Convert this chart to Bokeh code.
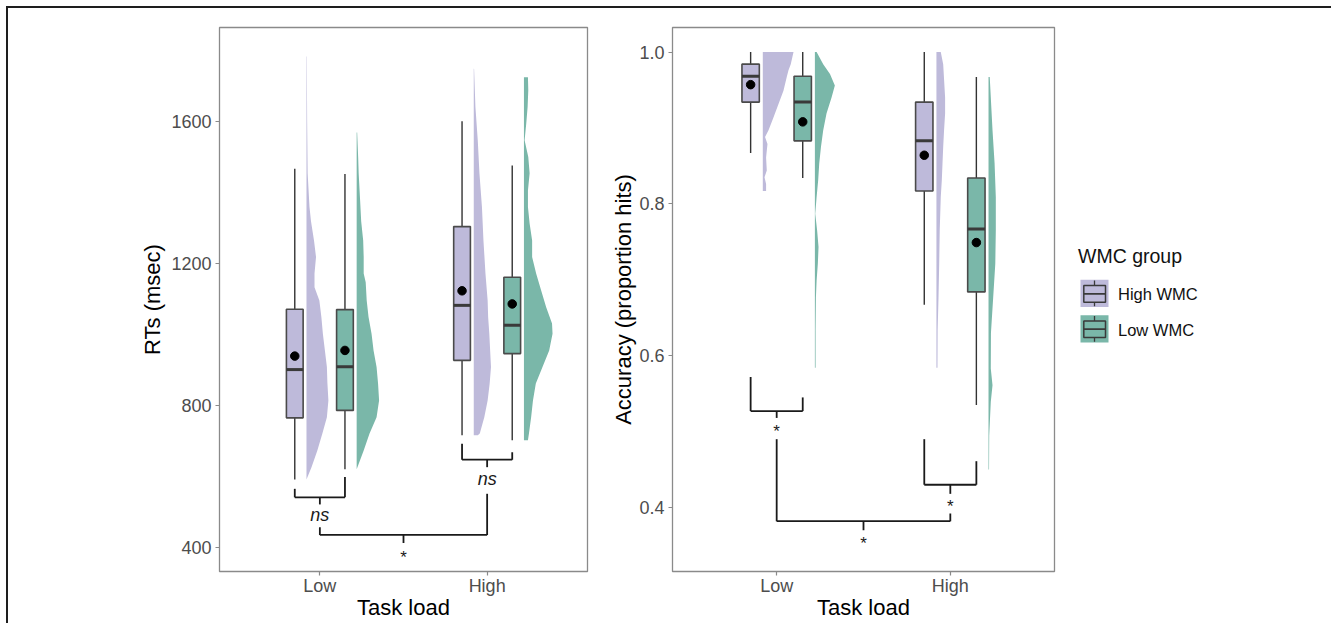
from bokeh.plotting import figure
from bokeh.layouts import row
from bokeh.models import Range1d, FixedTicker, PrintfTickFormatter
from bokeh.embed import file_html
from bokeh.resources import INLINE
from bokeh.core.properties import value

# ---------------- data ----------------
loads = ["Low", "High"]
load_pos = [1, 2]
groups = ["High WMC", "Low WMC"]
group_colors = ["#BEBADA", "#7AB7A9"]

# box stats, order: (Low, High WMC), (Low, Low WMC), (High, High WMC), (High, Low WMC)
rt_min = [592, 621, 717, 703]
rt_q1 = [766, 787, 928, 947]
rt_med = [902, 910, 1083, 1027]
rt_q3 = [1072, 1071, 1305, 1162]
rt_max = [1468, 1453, 1602, 1477]
rt_mean = [940, 956, 1124, 1087]

acc_min = [0.867, 0.834, 0.667, 0.535]
acc_q1 = [0.934, 0.883, 0.817, 0.684]
acc_med = [0.968, 0.934, 0.883, 0.767]
acc_q3 = [0.984, 0.968, 0.934, 0.834]
acc_max = [1.0, 1.0, 1.0, 0.967]
acc_mean = [0.957, 0.908, 0.864, 0.749]

# half-violin density profiles (value levels, half-width in x units)
rt_v_low_high_y = [592, 627, 674, 722, 768, 815, 865, 909, 1003, 1050, 1097, 1134, 1173, 1219, 1266, 1320, 1360, 1455, 1600, 1784]
rt_v_low_high_w = [0, .030, .065, .095, .122, .131, .125, .122, .098, .089, .077, .048, .048, .057, .045, .027, .018, .007, .004, .002]
rt_v_low_low_y = [621, 674, 722, 768, 815, 862, 909, 956, 1003, 1050, 1097, 1148, 1173, 1219, 1266, 1320, 1376, 1455, 1500, 1570]
rt_v_low_low_w = [0, .042, .077, .119, .134, .128, .119, .101, .089, .071, .060, .054, .042, .042, .039, .027, .021, .012, .009, .003]
rt_v_high_high_y = [717, 722, 768, 815, 862, 909, 956, 1003, 1050, 1097, 1173, 1266, 1360, 1455, 1548, 1642, 1750]
rt_v_high_high_w = [.024, .036, .063, .083, .095, .103, .098, .093, .086, .083, .070, .058, .049, .034, .024, .010, .002]
rt_v_high_low_y = [703, 722, 768, 815, 863, 909, 956, 1003, 1032, 1078, 1125, 1173, 1219, 1266, 1314, 1360, 1407, 1455, 1501, 1548, 1596, 1642, 1689, 1726]
rt_v_high_low_w = [.024, .030, .043, .054, .071, .111, .151, .171, .168, .133, .103, .073, .049, .049, .034, .024, .024, .034, .026, .004, .014, .022, .026, .024]

acc_v_low_high_y = [0.817, 0.826, 0.835, 0.844, 0.861, 0.879, 0.888, 0.897, 0.914, 0.932, 0.949, 0.967, 0.976, 0.984, 1.0]
acc_v_low_high_w = [.019, .019, .010, .023, .019, .027, .013, .033, .062, .091, .119, .138, .148, .161, .177]
acc_v_low_low_y = [0.584, 0.633, 0.677, 0.699, 0.721, 0.743, 0.765, 0.787, 0.809, 0.831, 0.853, 0.875, 0.897, 0.919, 0.940, 0.956, 0.971, 0.984, 1.0]
acc_v_low_low_w = [.004, .004, .006, .010, .017, .021, .013, .002, .010, .019, .025, .035, .048, .067, .096, .115, .087, .048, .010]
acc_v_high_high_y = [0.584, 0.633, 0.677, 0.721, 0.765, 0.809, 0.831, 0.853, 0.875, 0.897, 0.919, 0.940, 0.984, 1.0]
acc_v_high_high_w = [.006, .007, .012, .016, .019, .025, .031, .035, .039, .044, .050, .050, .039, .025]
acc_v_high_low_y = [0.450, 0.495, 0.539, 0.561, 0.583, 0.630, 0.677, 0.721, 0.765, 0.809, 0.853, 0.897, 0.967]
acc_v_high_low_w = [.003, .004, .013, .023, .013, .014, .027, .039, .042, .042, .035, .023, .007]

# significance brackets: x_left, x_right, y_bar, y_left_top, y_right_top, y_tick_end, label, y_label
rt_br_xl = [0.85, 1.85, 1.0]
rt_br_xr = [1.15, 2.15, 2.0]
rt_br_bar = [542, 648, 436]
rt_br_ltop = [566, 693, 458]
rt_br_rtop = [599, 669, 552]
rt_br_tick = [522, 627, 413]
rt_br_lab = ["ns", "ns", "*"]
rt_br_laby = [491, 594, 384]

acc_br_xl = [0.85, 1.85, 1.0]
acc_br_xr = [1.15, 2.15, 2.0]
acc_br_bar = [0.527, 0.430, 0.382]
acc_br_ltop = [0.572, 0.490, 0.490]
acc_br_rtop = [0.545, 0.461, 0.392]
acc_br_tick = [0.518, 0.418, 0.370]
acc_br_lab = ["*", "*", "*"]
acc_br_laby = [0.506, 0.406, 0.358]

rt_ticks = [400, 800, 1200, 1600]
acc_ticks = [0.4, 0.6, 0.8, 1.0]

# ---------------- styling constants ----------------
FONT = "Liberation Sans"
BOX_OFF = [-0.15, 0.15]
VIO_OFF = [-0.08, 0.22]
BOX_W = 0.1
H = 615


def style_panel(p, yticks, ylabel, ylab_standoff):
    p.xaxis.ticker = FixedTicker(ticks=load_pos)
    p.xaxis.major_label_overrides = {load_pos[i]: loads[i] for i in range(len(loads))}
    p.yaxis.ticker = FixedTicker(ticks=yticks)
    for ax in (p.xaxis[0], p.yaxis[0]):
        ax.axis_line_color = None
        ax.major_tick_line_color = "#8a8a8a"
        ax.major_tick_line_width = 1.2
        ax.major_tick_out = 4
        ax.major_tick_in = 0
        ax.minor_tick_line_color = None
        ax.major_label_text_font = FONT
        ax.major_label_text_font_size = "18px"
        ax.major_label_text_color = "#4d4d4d"
        ax.axis_label_text_font = FONT
        ax.axis_label_text_font_size = "22px"
        ax.axis_label_text_font_style = "normal"
        ax.axis_label_text_color = "#000000"
    p.xaxis.axis_label = "Task load"
    p.yaxis.axis_label = ylabel
    p.xaxis.major_label_standoff = 0
    p.xaxis.axis_label_standoff = -4
    p.yaxis.major_label_standoff = 4
    p.yaxis.axis_label_standoff = ylab_standoff
    p.grid.visible = False
    p.outline_line_color = "#8a8a8a"
    p.outline_line_width = 1.3
    p.background_fill_color = "white"
    p.border_fill_color = "white"


def draw_panel(p, vmin, q1, med, q3, vmax, mean, violins, br):
    k = 0
    for li, lp in enumerate(load_pos):
        for gi in range(len(groups)):
            ys, ws = violins[k]
            base = lp + VIO_OFF[gi]
            p.harea(x1=[base] * len(ys), x2=[base + w for w in ws], y=ys,
                    fill_color=group_colors[gi], fill_alpha=1.0)
            k += 1
    xs = []
    cols = []
    for li, lp in enumerate(load_pos):
        for gi in range(len(groups)):
            xs.append(lp + BOX_OFF[gi])
            cols.append(group_colors[gi])
    p.segment(x0=xs, y0=q3, x1=xs, y1=vmax, line_color="#333333", line_width=1.4)
    p.segment(x0=xs, y0=q1, x1=xs, y1=vmin, line_color="#333333", line_width=1.4)
    p.vbar(x=xs, width=BOX_W, top=q3, bottom=q1, fill_color=cols,
           line_color="#4a4a4a", line_width=1.6)
    p.segment(x0=[x - BOX_W / 2 for x in xs], x1=[x + BOX_W / 2 for x in xs],
              y0=med, y1=med, line_color="#3a3a3a", line_width=3)
    p.scatter(x=xs, y=mean, size=8.5, color="black")
    xl, xr, bar, ltop, rtop, tick, lab, laby = br
    x0, y0, x1, y1 = [], [], [], []
    for i in range(len(xl)):
        xm = (xl[i] + xr[i]) / 2
        x0 += [xl[i], xl[i], xr[i], xm]
        y0 += [bar[i], ltop[i], rtop[i], bar[i]]
        x1 += [xr[i], xl[i], xr[i], xm]
        y1 += [bar[i], bar[i], bar[i], tick[i]]
    p.segment(x0=x0, y0=y0, x1=x1, y1=y1, line_color="#1a1a1a", line_width=1.8)
    xm_all = [(xl[i] + xr[i]) / 2 for i in range(len(xl))]
    ns_x = [xm_all[i] for i in range(len(lab)) if lab[i] == "ns"]
    ns_y = [laby[i] for i in range(len(lab)) if lab[i] == "ns"]
    st_x = [xm_all[i] for i in range(len(lab)) if lab[i] == "*"]
    st_y = [laby[i] for i in range(len(lab)) if lab[i] == "*"]
    if ns_x:
        p.text(x=ns_x, y=ns_y, text=["ns"] * len(ns_x), text_font=value(FONT),
               text_font_size="18px", text_font_style="italic", text_align="center",
               text_baseline="middle", text_color="#1a1a1a")
    if st_x:
        p.text(x=st_x, y=st_y, text=["*"] * len(st_x), text_font=value(FONT),
               text_font_size="17px", text_align="center", text_baseline="middle",
               y_offset=4, text_color="#1a1a1a")


# ---------------- left panel (RT) ----------------
p1 = figure(width=592, height=H, x_range=Range1d(0.4, 2.6), y_range=Range1d(333, 1866),
            output_backend="svg", toolbar_location=None,
            min_border_left=211, min_border_right=13, min_border_top=19, min_border_bottom=52)
style_panel(p1, rt_ticks, "RTs (msec)", 3)
draw_panel(p1, rt_min, rt_q1, rt_med, rt_q3, rt_max, rt_mean,
           [(rt_v_low_high_y, rt_v_low_high_w), (rt_v_low_low_y, rt_v_low_low_w),
            (rt_v_high_high_y, rt_v_high_high_w), (rt_v_high_low_y, rt_v_high_low_w)],
           (rt_br_xl, rt_br_xr, rt_br_bar, rt_br_ltop, rt_br_rtop, rt_br_tick, rt_br_lab, rt_br_laby))

# ---------------- right panel (Accuracy) ----------------
p2 = figure(width=460, height=H, x_range=Range1d(0.4, 2.6), y_range=Range1d(0.3157, 1.0323),
            output_backend="svg", toolbar_location=None,
            min_border_left=72, min_border_right=6, min_border_top=19, min_border_bottom=52)
style_panel(p2, acc_ticks, "Accuracy (proportion hits)", 0)
p2.yaxis.formatter = PrintfTickFormatter(format="%.1f")
draw_panel(p2, acc_min, acc_q1, acc_med, acc_q3, acc_max, acc_mean,
           [(acc_v_low_high_y, acc_v_low_high_w), (acc_v_low_low_y, acc_v_low_low_w),
            (acc_v_high_high_y, acc_v_high_high_w), (acc_v_high_low_y, acc_v_high_low_w)],
           (acc_br_xl, acc_br_xr, acc_br_bar, acc_br_ltop, acc_br_rtop, acc_br_tick, acc_br_lab, acc_br_laby))

# ---------------- legend panel (frame aligned with the panels: page coords) ----------------
LW = 271
X0 = 1060
p3 = figure(width=LW, height=H, x_range=Range1d(X0, X0 + LW), y_range=Range1d(571, 27),
            x_axis_type=None, y_axis_type=None, output_backend="svg", toolbar_location=None,
            min_border_left=0, min_border_right=0, min_border_top=19, min_border_bottom=52)
p3.grid.visible = False
p3.outline_line_color = None
p3.background_fill_color = "white"
p3.border_fill_color = "white"
p3.text(x=[1077.5], y=[255.5], text=["WMC group"], text_font=value(FONT), text_font_size="19.5px",
        text_baseline="middle", text_align="left", text_color="#111111")
key_top0 = 279.3
key_step = 35.4
kl, kr, kt, kb = [], [], [], []
for gi in range(len(groups)):
    t = key_top0 + gi * key_step
    kl.append(1080); kr.append(1108); kt.append(t); kb.append(t + 27.3)
p3.quad(left=kl, right=kr, top=kt, bottom=kb, fill_color=group_colors, line_color=None)
p3.quad(left=[l + 3.3 for l in kl], right=[r - 3 for r in kr],
        top=[t + 5.7 for t in kt], bottom=[t + 22.4 for t in kt],
        fill_color=None, line_color="#3a3a3a", line_width=1.5)
cx = [(l + r) / 2 for l, r in zip(kl, kr)]
p3.segment(x0=[l + 3.3 for l in kl], x1=[r - 3 for r in kr], y0=[t + 14 for t in kt],
           y1=[t + 14 for t in kt], line_color="#3a3a3a", line_width=1.8)
p3.segment(x0=cx + cx, x1=cx + cx, y0=[t + 0.8 for t in kt] + [t + 22.4 for t in kt],
           y1=[t + 5.7 for t in kt] + [t + 26.5 for t in kt], line_color="#3a3a3a", line_width=1.3)
p3.text(x=[1117.5] * len(groups), y=[t + 14.5 for t in kt], text=groups, text_font=value(FONT),
        text_font_size="16.5px", text_baseline="middle", text_align="left", text_color="#111111")

layout = row(p1, p2, p3, styles={"border-top": "2px solid #1e1e1e",
                                 "border-left": "2px solid #1e1e1e",
                                 "margin-top": "6px", "margin-left": "6px"})

open("out.html", "w").write(file_html(layout, INLINE))
